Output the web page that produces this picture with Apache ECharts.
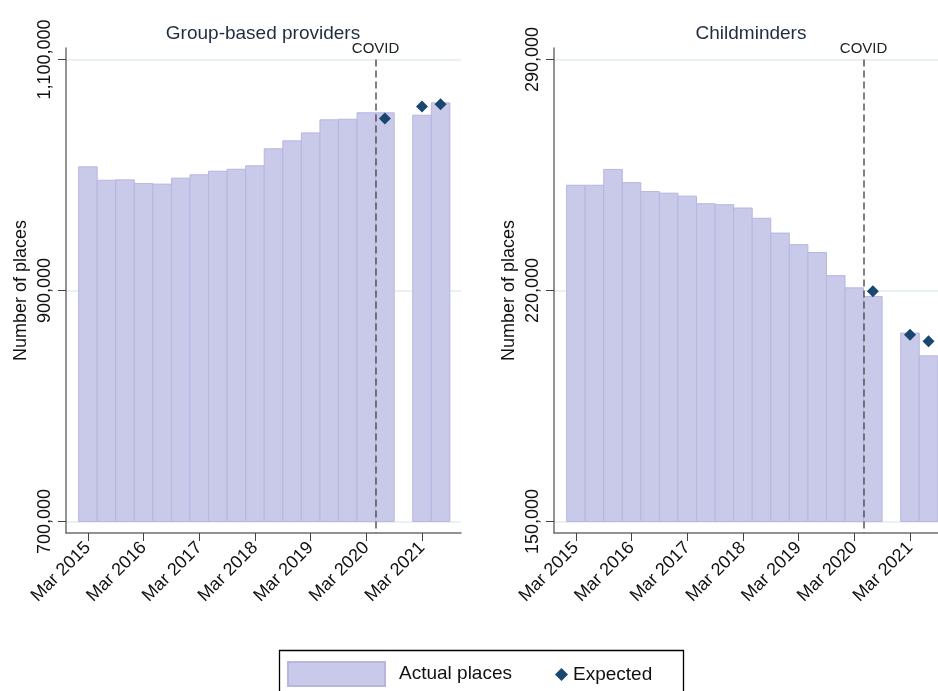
<!DOCTYPE html>
<html><head><meta charset="utf-8">
<script src="https://cdn.jsdelivr.net/npm/echarts@6/dist/echarts.min.js"></script>
<style>html,body{margin:0;padding:0;background:#fff}#c{width:938px;height:691px}</style>
</head><body><div id="c"></div>
<script>
// ---- data ----
const periods = ['Mar 2015','Aug 2015','Dec 2015','Mar 2016','Aug 2016','Dec 2016','Mar 2017','Aug 2017','Dec 2017',
  'Mar 2018','Aug 2018','Dec 2018','Mar 2019','Aug 2019','Dec 2019','Mar 2020','Aug 2020','Dec 2020','Mar 2021','Aug 2021'];
const groupActual   = [1007100, 995500, 995800, 992600, 992100, 997300, 1000200, 1003300, 1005000, 1008000,
  1022700, 1029600, 1036500, 1047800, 1048300, 1053900, 1053900, null, 1051800, 1062500];
const groupExpected = [null,null,null,null,null,null,null,null,null,null,null,null,null,null,null,null, 1048900, null, 1059300, 1061300];
const cmActual      = [251900, 251900, 256700, 252700, 250000, 249500, 248600, 246300, 246000, 245000,
  241900, 237400, 233900, 231500, 224500, 220800, 218200, null, 207100, 200200];
const cmExpected    = [null,null,null,null,null,null,null,null,null,null,null,null,null,null,null,null, 219800, null, 206600, 204600];
const groupTicks = [700000, 900000, 1100000];
const cmTicks    = [150000, 220000, 290000];
const panelTitles = ['Group-based providers', 'Childminders'];
const covidAt = 15.5;   // between Mar 2020 and Aug 2020
const covidLabel = 'COVID';

// ---- chart ----
const FONT = '"Liberation Sans", Arial, Helvetica, sans-serif';
const marchIdx = periods.map((p, i) => p.startsWith('Mar') ? i : -1).filter(i => i >= 0);
const BAR_FILL = '#c9c9ea', BAR_EDGE = '#b7b6e0', NAVY = '#1a476f';

function xAxisCfg(gi, max) {
  return {
    type: 'value', gridIndex: gi, min: -1.18, max: max,
    axisLine: { show: true, onZero: false, lineStyle: { color: '#6f6f6f', width: 1.5 } },
    axisTick: { show: true, customValues: marchIdx, length: 8, lineStyle: { color: '#444', width: 1 } },
    axisLabel: { customValues: marchIdx, rotate: 45, margin: 12, formatter: v => periods[Math.round(v)],
      fontSize: 18, color: '#111', fontFamily: FONT },
    splitLine: { show: false }
  };
}
function yAxisCfg(gi, ticks, min, max) {
  return {
    type: 'value', gridIndex: gi, min: min, max: max,
    name: 'Number of places', nameLocation: 'middle', nameRotate: 90, nameGap: 36,
    nameTextStyle: { fontSize: 18, color: '#111', fontFamily: FONT },
    axisLine: { show: true, onZero: false, lineStyle: { color: '#6f6f6f', width: 1.5 } },
    axisTick: { show: true, customValues: ticks, length: 8, lineStyle: { color: '#444', width: 1 } },
    axisLabel: { customValues: ticks, rotate: 90, margin: 12, formatter: v => Number(v).toLocaleString('en-US'),
      fontSize: 18, color: '#111', fontFamily: FONT },
    splitLine: { show: true, lineStyle: { color: '#e3ecf0', width: 1.5 } }
  };
}
function barSeries(gi, values, base) {
  return {
    type: 'custom', name: 'Actual places', xAxisIndex: gi, yAxisIndex: gi, clip: true,
    itemStyle: { color: BAR_FILL, borderColor: BAR_EDGE, borderWidth: 1 },
    data: values.map((v, i) => [i, v]).filter(d => d[1] != null),
    renderItem: (params, api) => {
      const x = api.value(0), v = api.value(1);
      const p1 = api.coord([x - 0.5, v]);
      const p2 = api.coord([x + 0.5, base]);
      return { type: 'rect', shape: { x: p1[0], y: p1[1], width: p2[0] - p1[0], height: p2[1] - p1[1] },
        style: { fill: BAR_FILL, stroke: BAR_EDGE, lineWidth: 1 } };
    }
  };
}
function expSeries(gi, values, ticks, min) {
  return {
    type: 'scatter', name: 'Expected', xAxisIndex: gi, yAxisIndex: gi, symbol: 'diamond', symbolSize: 12, z: 5,
    itemStyle: { color: NAVY, opacity: 1 },
    data: values.map((v, i) => [i, v]).filter(d => d[1] != null),
    markLine: {
      silent: true, symbol: 'none', animation: false,
      lineStyle: { type: [7, 4], color: '#555', width: 1.5 },
      label: { show: true, position: 'start', formatter: covidLabel, fontSize: 15, color: '#222', fontFamily: FONT, distance: 3 },
      data: [[{ coord: [covidAt, ticks[ticks.length - 1]] }, { coord: [covidAt, min] }]]
    }
  };
}

const gMin = 690000, gMax = 1110000;
const cMin = 146500, cMax = 293500;

const option = {
  backgroundColor: '#fff',
  animation: false,
  textStyle: { fontFamily: FONT },
  title: [
    { text: panelTitles[0], left: 263, top: 24, textAlign: 'center', padding: 0,
      textStyle: { fontSize: 19, fontWeight: 'normal', color: '#1f2d3f', fontFamily: FONT } },
    { text: panelTitles[1], left: 751, top: 24, textAlign: 'center', padding: 0,
      textStyle: { fontSize: 19, fontWeight: 'normal', color: '#1f2d3f', fontFamily: FONT } }
  ],
  grid: [
    { left: 66, top: 48, width: 395, height: 485 },
    { left: 554, top: 48, right: 0, height: 485 }
  ],
  xAxis: [xAxisCfg(0, 20.1), xAxisCfg(1, 19.51)],
  yAxis: [yAxisCfg(0, groupTicks, gMin, gMax), yAxisCfg(1, cmTicks, cMin, cMax)],
  legend: [
    { data: [{ name: 'Actual places', icon: 'rect' }], left: 287, top: 661, itemWidth: 97, itemHeight: 24, padding: 0,
      selectedMode: false, textStyle: { fontSize: 19, color: '#111', fontFamily: FONT, padding: [0, 0, 0, 9] } },
    { data: [{ name: 'Expected', icon: 'diamond' }], left: 555, top: 665, itemWidth: 13, itemHeight: 13, padding: 0,
      selectedMode: false, itemStyle: { opacity: 1 }, textStyle: { fontSize: 19, color: '#111', fontFamily: FONT } }
  ],
  graphic: [
    { type: 'rect', left: 277, top: 648, silent: true, z: -1,
      shape: { x: 0, y: 0, width: 404, height: 60 },
      style: { fill: 'none', stroke: '#000', lineWidth: 1.3 } }
  ],
  series: [
    barSeries(0, groupActual, groupTicks[0]),
    expSeries(0, groupExpected, groupTicks, gMin),
    barSeries(1, cmActual, cmTicks[0]),
    expSeries(1, cmExpected, cmTicks, cMin)
  ]
};
const chart = echarts.init(document.getElementById('c'));
chart.setOption(option);
</script>
</body></html>
